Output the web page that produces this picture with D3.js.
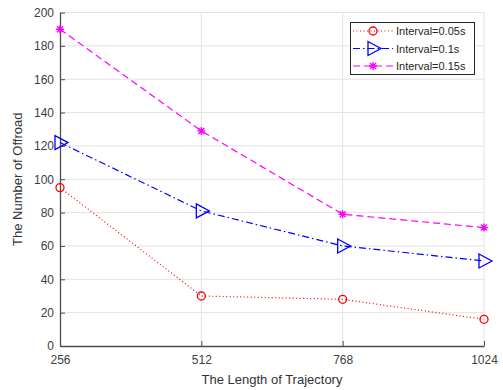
<!DOCTYPE html>
<html><head><meta charset="utf-8">
<script src="https://cdn.jsdelivr.net/npm/d3@7"></script>
<style>body{margin:0;background:#fff}svg{display:block;font-family:"Liberation Sans",Arial,sans-serif}</style>
</head><body><svg id="c" width="503" height="390"></svg>
<script>
const categories = [256, 512, 768, 1024];
const seriesNames = ["Interval=0.05s", "Interval=0.1s", "Interval=0.15s"];
const s005 = [95, 30, 28, 16];
const s01 = [122, 81, 60, 51];
const s015 = [190, 129, 79, 71];
const yTicks = [0, 20, 40, 60, 80, 100, 120, 140, 160, 180, 200];

const svg = d3.select("#c");
const L = 60, R = 484, T = 12.5, B = 346;
const x = d3.scalePoint().domain(categories).range([L, R]);
const y = d3.scaleLinear().domain([0, 200]).range([B, T]);

// grid
const g = svg.append("g");
g.selectAll(".hg").data(yTicks.filter(d => d > 0)).join("line")
  .attr("x1", L).attr("x2", R).attr("y1", d => y(d)).attr("y2", d => y(d))
  .attr("stroke", "#e3e3e3").attr("stroke-width", 1);
g.selectAll(".vg").data(categories.slice(1)).join("line")
  .attr("x1", d => x(d)).attr("x2", d => x(d)).attr("y1", T).attr("y2", B)
  .attr("stroke", "#e3e3e3").attr("stroke-width", 1);

// axes
const ax = svg.append("g").attr("transform", `translate(0,${B})`)
  .call(d3.axisBottom(x).tickSizeInner(-5).tickSizeOuter(0).tickPadding(9));
const ay = svg.append("g").attr("transform", `translate(${L},0)`)
  .call(d3.axisLeft(y).tickValues(yTicks).tickSizeInner(-5).tickSizeOuter(0).tickPadding(6));
[ax, ay].forEach(a => {
  a.select(".domain").attr("stroke", "#4d4d4d").attr("stroke-width", 1.3);
  a.selectAll(".tick line").attr("stroke", "#4d4d4d");
  a.selectAll("text").attr("fill", "#404040").style("font-size", "12px").style("font-family", "Liberation Sans, Arial, sans-serif");
});

svg.append("text").attr("x", (L + R) / 2).attr("y", 384).attr("text-anchor", "middle")
  .attr("fill", "#333").style("font-size", "13px").text("The Length of Trajectory");
svg.append("text").attr("transform", `translate(22,${(T + B) / 2}) rotate(-90)`).attr("text-anchor", "middle")
  .attr("fill", "#333").style("font-size", "13px").text("The Number of Offroad");

const series = [
  {name: seriesNames[0], vals: s005, color: "#ff0000", dash: "1,2.5", marker: "circle"},
  {name: seriesNames[1], vals: s01, color: "#0000ff", dash: "7,3,1.5,3", marker: "tri"},
  {name: seriesNames[2], vals: s015, color: "#ff00ff", dash: "7,4", marker: "star"}
];

function drawMarker(sel, type, color) {
  if (type === "circle") {
    sel.append("circle").attr("r", 4).attr("fill", "none").attr("stroke", color).attr("stroke-width", 1.3);
  } else if (type === "tri") {
    sel.append("path").attr("d", "M-5,-7L8,0L-5,7Z").attr("fill", "none").attr("stroke", color).attr("stroke-width", 1.3);
  } else {
    sel.append("path").attr("d", "M-4,0H4M0,-4V4M-3,-3L3,3M-3,3L3,-3").attr("stroke", color).attr("stroke-width", 1.4);
  }
}

const line = d3.line().x((d, i) => x(categories[i])).y(d => y(d));
series.forEach(s => {
  svg.append("path").attr("d", line(s.vals)).attr("fill", "none")
    .attr("stroke", s.color).attr("stroke-width", 1.2).attr("stroke-dasharray", s.dash);
  s.vals.forEach((v, i) => {
    const m = svg.append("g").attr("transform", `translate(${x(categories[i])},${y(v)})`);
    drawMarker(m, s.marker, s.color);
  });
});

// legend
const lg = svg.append("g");
lg.append("rect").attr("x", 350.5).attr("y", 22.5).attr("width", 124).attr("height", 52)
  .attr("fill", "#fff").attr("stroke", "#262626").attr("stroke-width", 1);
series.forEach((s, i) => {
  const yy = 31 + i * 17.5;
  lg.append("line").attr("x1", 353).attr("x2", 393).attr("y1", yy).attr("y2", yy)
    .attr("stroke", s.color).attr("stroke-width", 1.2).attr("stroke-dasharray", s.dash);
  const m = lg.append("g").attr("transform", `translate(373,${yy})`);
  drawMarker(m, s.marker, s.color);
  lg.append("text").attr("x", 396).attr("y", yy + 4).attr("fill", "#262626")
    .style("font-size", "11px").text(s.name);
});
</script></body></html>
